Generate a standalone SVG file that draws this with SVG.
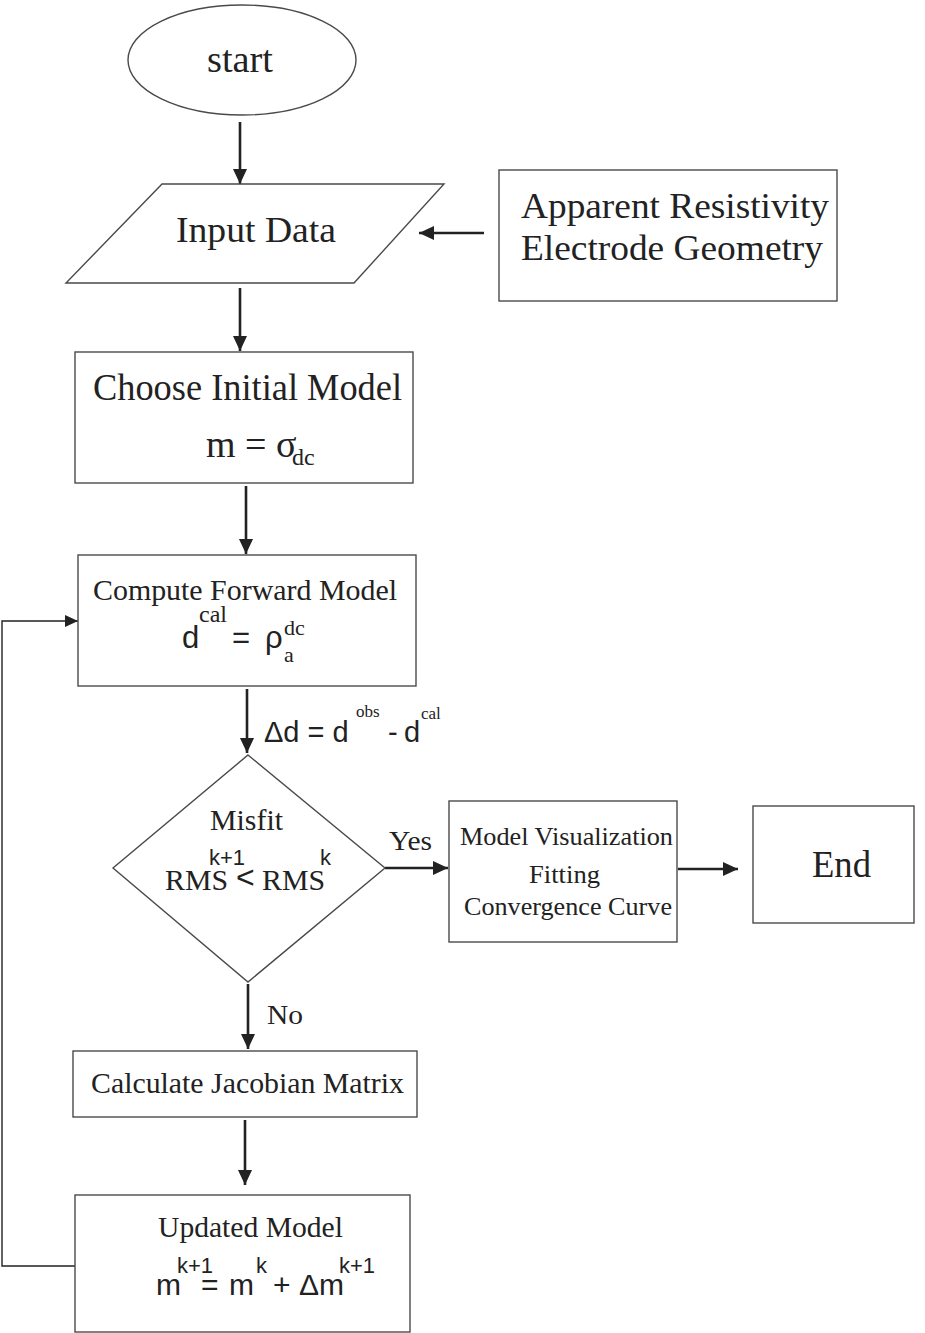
<svg xmlns="http://www.w3.org/2000/svg" width="925" height="1333" viewBox="0 0 925 1333">
<style>
.bg{fill:#ffffff}
.box{fill:#ffffff;stroke:#4a4a4a;stroke-width:1.4}
.ser{font-family:"Liberation Serif","Times New Roman",serif;fill:#222}
.san{font-family:"Liberation Sans",Arial,sans-serif;fill:#222}
.arr{stroke:#222;stroke-width:2.6;fill:none;marker-end:url(#ah)}
.fb{stroke:#222;stroke-width:1.4;fill:none;marker-end:url(#ahs)}
</style>
<defs>
<marker id="ah" markerUnits="userSpaceOnUse" markerWidth="16" markerHeight="14" refX="15" refY="7" orient="auto">
<path d="M0,0 L15,7 L0,14 z" fill="#222"/>
</marker>
<marker id="ahs" markerUnits="userSpaceOnUse" markerWidth="14" markerHeight="12" refX="13" refY="6" orient="auto">
<path d="M0,0 L13,6 L0,12 z" fill="#222"/>
</marker>
</defs>
<rect class="bg" x="0" y="0" width="925" height="1333"/>

<g id="connectors">
<line class="arr" x1="240" y1="122" x2="240" y2="184"/>
<line class="arr" x1="484" y1="233" x2="419" y2="233"/>
<line class="arr" x1="240" y1="288" x2="240" y2="351"/>
<line class="arr" x1="246" y1="486" x2="246" y2="554"/>
<line class="arr" x1="247" y1="689" x2="247" y2="753"/>
<line class="arr" x1="385" y1="868" x2="448" y2="868"/>
<line class="arr" x1="678" y1="869" x2="738" y2="869"/>
<line class="arr" x1="248" y1="984" x2="248" y2="1049"/>
<line class="arr" x1="245" y1="1120" x2="245" y2="1185"/>
<path class="fb" d="M75,1266 H2 V621 H78"/>
<g id="label-delta">
<text class="san" x="264" y="742" font-size="29">Δd = d</text>
<text class="ser" x="356" y="717" font-size="17">obs</text>
<text class="san" x="388" y="742" font-size="29">-</text>
<text class="san" x="404" y="742" font-size="29">d</text>
<text class="ser" x="421" y="719" font-size="17">cal</text>
</g>
<text id="label-yes" class="ser" x="389" y="850" font-size="28" textLength="43" lengthAdjust="spacingAndGlyphs">Yes</text>
<text id="label-no" class="ser" x="267" y="1024" font-size="28" textLength="36" lengthAdjust="spacingAndGlyphs">No</text>
</g>

<g id="start">
<ellipse class="box" cx="242" cy="60" rx="114" ry="55"/>
<text class="ser" x="240" y="72" font-size="38" text-anchor="middle" textLength="66" lengthAdjust="spacingAndGlyphs">start</text>
</g>

<g id="input-data">
<polygon class="box" points="162,184 444,184 354,283 66,283"/>
<text class="ser" x="176" y="242" font-size="36" textLength="160" lengthAdjust="spacingAndGlyphs">Input Data</text>
</g>

<g id="data-source">
<rect class="box" x="499" y="170" width="338" height="131"/>
<text class="ser" x="521" y="218" font-size="35" textLength="308" lengthAdjust="spacingAndGlyphs">Apparent Resistivity</text>
<text class="ser" x="521" y="260" font-size="35" textLength="302" lengthAdjust="spacingAndGlyphs">Electrode Geometry</text>
</g>

<g id="initial-model">
<rect class="box" x="75" y="352" width="338" height="131"/>
<text class="ser" x="93" y="400" font-size="37" textLength="309" lengthAdjust="spacingAndGlyphs">Choose Initial Model</text>
<text class="ser" x="206" y="457" font-size="38">m = σ</text>
<text class="ser" x="292" y="465" font-size="24">dc</text>
</g>

<g id="forward-model">
<rect class="box" x="78" y="555" width="338" height="131"/>
<text class="ser" x="93" y="600" font-size="30" textLength="304" lengthAdjust="spacingAndGlyphs">Compute Forward Model</text>
<text class="san" x="182" y="648" font-size="31">d</text>
<text class="ser" x="199" y="622" font-size="24">cal</text>
<text class="san" x="232" y="648" font-size="31">=</text>
<text class="san" x="265" y="648" font-size="31">ρ</text>
<text class="ser" x="284" y="662" font-size="22">a</text>
<text class="ser" x="284" y="635" font-size="22">dc</text>
</g>

<g id="misfit">
<polygon class="box" points="248,755 385,868 248,982 113,868"/>
<text class="ser" x="210" y="830" font-size="30" textLength="73" lengthAdjust="spacingAndGlyphs">Misfit</text>
<text class="ser" x="165" y="890" font-size="30" textLength="63" lengthAdjust="spacingAndGlyphs">RMS</text>
<text class="san" x="209" y="865" font-size="22">k+1</text>
<text class="san" x="236" y="888" font-size="32">&lt;</text>
<text class="ser" x="262" y="890" font-size="30" textLength="63" lengthAdjust="spacingAndGlyphs">RMS</text>
<text class="san" x="320" y="865" font-size="22">k</text>
</g>

<g id="visualization">
<rect class="box" x="449" y="801" width="228" height="141"/>
<text class="ser" x="460" y="845" font-size="26" textLength="213" lengthAdjust="spacingAndGlyphs">Model Visualization</text>
<text class="ser" x="529" y="883" font-size="26" textLength="71" lengthAdjust="spacingAndGlyphs">Fitting</text>
<text class="ser" x="464" y="915" font-size="26" textLength="208" lengthAdjust="spacingAndGlyphs">Convergence Curve</text>
</g>

<g id="end">
<rect class="box" x="753" y="806" width="161" height="117"/>
<text class="ser" x="812" y="877" font-size="37" textLength="59" lengthAdjust="spacingAndGlyphs">End</text>
</g>

<g id="jacobian">
<rect class="box" x="73" y="1051" width="344" height="66"/>
<text class="ser" x="91" y="1093" font-size="30" textLength="313" lengthAdjust="spacingAndGlyphs">Calculate Jacobian Matrix</text>
</g>

<g id="updated-model">
<rect class="box" x="75" y="1195" width="335" height="137"/>
<text class="ser" x="158" y="1237" font-size="30" textLength="185" lengthAdjust="spacingAndGlyphs">Updated Model</text>
<text class="san" x="156" y="1295" font-size="30">m</text>
<text class="san" x="177" y="1273" font-size="22">k+1</text>
<text class="san" x="201" y="1295" font-size="30">=</text>
<text class="san" x="229" y="1295" font-size="30">m</text>
<text class="san" x="256" y="1273" font-size="22">k</text>
<text class="san" x="273" y="1295" font-size="30">+</text>
<text class="san" x="299" y="1295" font-size="30">Δm</text>
<text class="san" x="339" y="1273" font-size="22">k+1</text>
</g>
</svg>
